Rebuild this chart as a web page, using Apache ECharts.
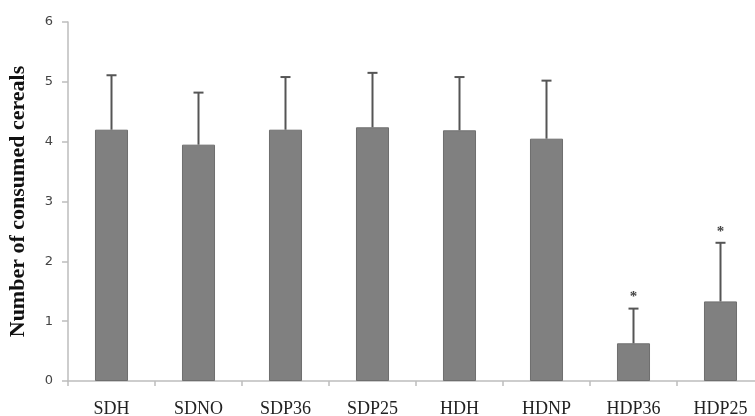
<!DOCTYPE html>
<html>
<head>
<meta charset="utf-8">
<script src="https://cdn.jsdelivr.net/npm/echarts@6/dist/echarts.min.js"></script>
<style>html,body{margin:0;padding:0;background:#fff}#c{width:755px;height:416px}</style>
</head>
<body>
<div id="c"></div>
<script>
var categories = ['SDH', 'SDNO', 'SDP36', 'SDP25', 'HDH', 'HDNP', 'HDP36', 'HDP25'];
var means = [4.2, 3.95, 4.2, 4.24, 4.19, 4.05, 0.63, 1.33];
var sds = [0.91, 0.87, 0.88, 0.91, 0.89, 0.97, 0.58, 0.98];
var significant = [false, false, false, false, false, false, true, true];
var yTicks = [0, 1, 2, 3, 4, 5, 6];

var errData = categories.map(function (c, i) { return [i, means[i], means[i] + sds[i], significant[i] ? 1 : 0]; });

var chart = echarts.init(document.getElementById('c'), null, { renderer: 'canvas' });
chart.setOption({
  animation: false,
  backgroundColor: '#ffffff',
  grid: { left: 68, right: -9, top: 22, bottom: 35, containLabel: false, outerBoundsMode: 'none' },
  xAxis: {
    type: 'category',
    data: categories,
    axisLine: { show: true, lineStyle: { color: '#bdbdbd', width: 1.5 } },
    axisTick: { show: true, length: 5, lineStyle: { color: '#bdbdbd', width: 1.5 } },
    axisLabel: { color: '#222', fontFamily: 'Liberation Serif', fontSize: 18, margin: 19 }
  },
  yAxis: {
    type: 'value',
    min: yTicks[0], max: yTicks[yTicks.length - 1], interval: 1,
    name: 'Number of consumed cereals',
    nameLocation: 'middle',
    nameGap: 39,
    nameTextStyle: { color: '#111', fontFamily: 'Liberation Serif', fontWeight: 'bold', fontSize: 22 },
    axisLine: { show: true, lineStyle: { color: '#bdbdbd', width: 1.5 } },
    axisTick: { show: true, length: 6, lineStyle: { color: '#bdbdbd', width: 1.5 } },
    splitLine: { show: false },
    axisLabel: { color: '#444', fontFamily: 'DejaVu Sans', fontSize: 13, margin: 15 }
  },
  series: [
    {
      type: 'bar',
      data: means,
      barWidth: '38%',
      itemStyle: { color: '#808080', borderColor: '#6e6e6e', borderWidth: 1 }
    },
    {
      type: 'custom',
      data: errData,
      z: 5,
      renderItem: function (params, api) {
        var i = api.value(0);
        var lo = api.coord([i, api.value(1)]);
        var hi = api.coord([i, api.value(2)]);
        var cap = 5;
        var children = [
          { type: 'line', shape: { x1: lo[0], y1: lo[1], x2: hi[0], y2: hi[1] }, style: { stroke: '#555', lineWidth: 2 } },
          { type: 'line', shape: { x1: hi[0] - cap, y1: hi[1], x2: hi[0] + cap, y2: hi[1] }, style: { stroke: '#555', lineWidth: 2 } }
        ];
        if (api.value(3) === 1) {
          children.push({ type: 'text', style: { text: '*', x: hi[0], y: hi[1] - 11, align: 'center', verticalAlign: 'middle', font: 'bold 15px "Liberation Serif"', fill: '#444' } });
        }
        return { type: 'group', children: children };
      }
    }
  ]
});
</script>
</body>
</html>
